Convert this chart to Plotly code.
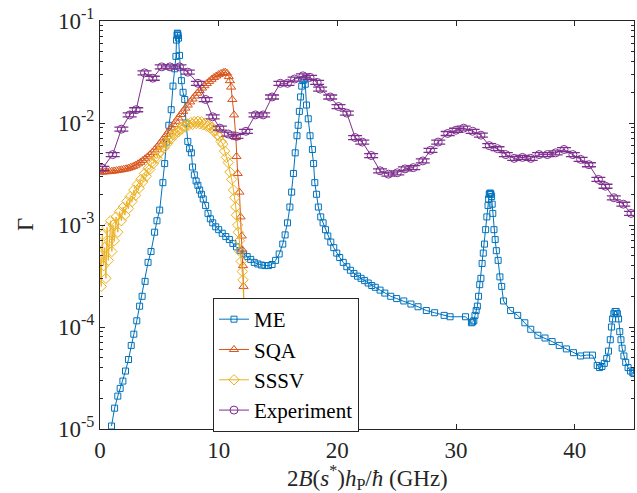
import plotly.graph_objects as go

# ---------------- data ----------------
me_x = [0.97, 1.23, 1.5, 1.7, 1.93, 2.15, 2.4, 2.63, 2.85, 3.1, 3.34, 3.55, 3.8, 4.05, 4.3, 4.6, 4.8,
        5.03, 5.3, 5.45, 5.6, 5.8, 6.0, 6.15, 6.3, 6.4, 6.45, 6.5, 6.52, 6.55, 6.58, 6.62, 6.7, 6.86,
        7.0, 7.14, 7.25, 7.4, 7.55, 7.7, 7.8, 7.95, 8.1, 8.25, 8.4, 8.55, 8.7, 8.9, 9.1, 9.3, 9.5, 9.75,
        10.0, 10.3, 10.6, 10.9, 11.2, 11.5, 11.8, 12.1, 12.4, 12.7, 13.0, 13.3, 13.6, 13.9, 14.2, 14.5,
        14.8, 15.1, 15.4, 15.6, 15.8, 16.0, 16.15, 16.3, 16.45, 16.6, 16.7, 16.8, 16.9, 17.0, 17.1, 17.2,
        17.3, 17.4, 17.55, 17.7, 17.9, 18.0, 18.1, 18.25, 18.4, 18.6, 18.8, 19.0, 19.2, 19.45, 19.7,
        19.95, 20.2, 20.5, 20.8, 21.1, 21.4, 21.7, 22.0, 22.3, 22.6, 22.9, 23.2, 23.6, 24.0, 24.5, 25.0,
        25.6, 26.2, 26.8, 27.5, 28.2, 29.0, 29.5, 30.8, 31.3, 31.4, 31.5, 31.6, 31.7, 31.8, 31.9, 32.0,
        32.1, 32.2, 32.3, 32.4, 32.5, 32.6, 32.7, 32.75, 32.8, 32.85, 32.9, 32.95, 33.0, 33.05, 33.1,
        33.2, 33.3, 33.4, 33.55, 33.7, 33.85, 34.0, 34.6, 35.2, 35.8, 36.3, 36.9, 37.5, 38.1, 38.7, 39.3,
        39.9, 40.5, 41.0, 41.5, 41.9, 42.1, 42.3, 42.5, 42.7, 42.85, 43.0, 43.1, 43.2, 43.3, 43.4, 43.5,
        43.6, 43.7, 43.8, 43.9, 44.0, 44.15, 44.3, 44.5, 44.7, 44.9, 45.0]
me_y = [1.07e-5, 1.6e-5, 2.1e-5, 2.5e-5, 2.95e-5, 3.7e-5, 4.8e-5, 6.6e-5, 8.5e-5, 1.15e-4, 1.6e-4, 2.0e-4,
        2.8e-4, 4.3e-4, 5.5e-4, 8.5e-4, 1.1e-3, 1.4e-3, 2.6e-3, 4.0e-3, 6.5e-3, 9.5e-3, 1.35e-2, 2.3e-2,
        3.4e-2, 4.5e-2, 6.5e-2, 7.3e-2, 7.6e-2, 7.5e-2, 7.2e-2, 6.8e-2, 4.6e-2, 2.6e-2, 2.0e-2, 1.7e-2,
        1.0e-2, 6.6e-3, 5.6e-3, 5.1e-3, 3.7e-3, 3.1e-3, 2.7e-3, 2.45e-3, 2.2e-3, 2.0e-3, 1.8e-3, 1.55e-3,
        1.3e-3, 1.15e-3, 1.05e-3, 9.6e-4, 9.0e-4, 8.3e-4, 7.7e-4, 7.2e-4, 6.6e-4, 6.1e-4, 5.6e-4, 5.2e-4,
        4.9e-4, 4.6e-4, 4.3e-4, 4.15e-4, 4.05e-4, 4.0e-4, 4.0e-4, 4.1e-4, 4.5e-4, 5.2e-4, 6.5e-4, 8.0e-4,
        1.05e-3, 1.5e-3, 2.1e-3, 3.2e-3, 5.1e-3, 7.5e-3, 9.5e-3, 1.3e-2, 1.8e-2, 2.3e-2, 2.6e-2, 2.65e-2,
        2.4e-2, 1.5e-2, 1.1e-2, 7.5e-3, 5.5e-3, 4.0e-3, 2.6e-3, 2.0e-3, 1.5e-3, 1.2e-3, 1.05e-3, 9.0e-4,
        7.8e-4, 6.8e-4, 6.0e-4, 5.3e-4, 4.8e-4, 4.3e-4, 3.9e-4, 3.6e-4, 3.35e-4, 3.15e-4, 3.0e-4, 2.85e-4,
        2.7e-4, 2.55e-4, 2.45e-4, 2.3e-4, 2.15e-4, 2.0e-4, 1.9e-4, 1.8e-4, 1.68e-4, 1.58e-4, 1.45e-4,
        1.38e-4, 1.3e-4, 1.26e-4, 1.26e-4, 1.1e-4, 1.12e-4, 1.15e-4, 1.3e-4, 1.45e-4, 1.6e-4, 2.0e-4,
        2.6e-4, 3.0e-4, 4.2e-4, 5.3e-4, 6.5e-4, 9.0e-4, 1.2e-3, 1.55e-3, 1.8e-3, 2.0e-3, 2.05e-3, 2.05e-3,
        2.0e-3, 1.9e-3, 1.6e-3, 1.3e-3, 9.0e-4, 7.2e-4, 5.6e-4, 4.5e-4, 3.1e-4, 2.5e-4, 1.8e-4, 1.45e-4,
        1.3e-4, 1.1e-4, 9.5e-5, 8.3e-5, 7.8e-5, 7.2e-5, 6.6e-5, 6.1e-5, 5.6e-5, 5.2e-5, 5.3e-5, 5.3e-5,
        4.2e-5, 4.0e-5, 4.1e-5, 4.4e-5, 4.9e-5, 5.8e-5, 7.5e-5, 1.0e-4, 1.2e-4, 1.35e-4, 1.42e-4, 1.42e-4,
        1.35e-4, 1.2e-4, 9.0e-5, 7.5e-5, 6.2e-5, 5.2e-5, 4.5e-5, 4.0e-5, 3.7e-5, 3.55e-5, 3.5e-5]

sqa_x = [0.0, 0.2, 0.4, 0.6, 0.8, 1.0, 1.2, 1.4, 1.6, 1.8, 2.0, 2.2, 2.4, 2.6, 2.8, 3.0, 3.2, 3.4, 3.6,
         3.8, 4.0, 4.2, 4.4, 4.6, 4.8, 5.0, 5.2, 5.4, 5.6, 5.8, 6.0, 6.2, 6.4, 6.6, 6.8, 7.0, 7.2, 7.4,
         7.6, 7.8, 8.0, 8.2, 8.4, 8.6, 8.8, 9.0, 9.2, 9.4, 9.6, 9.8, 10.0, 10.2, 10.4, 10.55, 10.7,
         10.85, 10.95, 11.05, 11.15, 11.3, 11.45, 11.5, 11.6, 11.75, 11.85, 11.95, 12.0, 12.05, 12.1, 12.25]
sqa_y = [3.30e-3, 3.31e-3, 3.32e-3, 3.33e-3, 3.35e-3, 3.37e-3, 3.39e-3, 3.42e-3, 3.45e-3, 3.48e-3,
         3.52e-3, 3.56e-3, 3.61e-3, 3.68e-3, 3.76e-3, 3.86e-3, 3.98e-3, 4.12e-3, 4.28e-3, 4.46e-3,
         4.66e-3, 4.88e-3, 5.15e-3, 5.45e-3, 5.80e-3, 6.20e-3, 6.65e-3, 7.15e-3, 7.70e-3, 8.30e-3,
         8.95e-3, 9.65e-3, 1.04e-2, 1.12e-2, 1.21e-2, 1.30e-2, 1.40e-2, 1.50e-2, 1.61e-2, 1.72e-2,
         1.84e-2, 1.96e-2, 2.08e-2, 2.20e-2, 2.32e-2, 2.44e-2, 2.56e-2, 2.68e-2, 2.79e-2, 2.89e-2,
         2.98e-2, 3.06e-2, 3.12e-2, 3.15e-2, 3.08e-2, 2.85e-2, 2.6e-2, 2.25e-2, 1.7e-2, 1.2e-2,
         7.2e-3, 4.7e-3, 3.2e-3, 2.1e-3, 1.2e-3, 7.8e-4, 5.7e-4, 4.0e-4, 2.5e-4, 5e-6]

sssv_x = [0.0, 0.1, 0.2, 0.3, 0.4, 0.5, 0.6, 0.7, 0.8, 0.9, 1.0, 1.1, 1.2, 1.35, 1.5, 1.65, 1.8, 1.95,
          2.1, 2.25, 2.4, 2.55, 2.7, 2.85, 3.0, 3.15, 3.3, 3.45, 3.6, 3.75, 3.9, 4.05, 4.2, 4.35, 4.5,
          4.65, 4.8, 4.95, 5.1, 5.25, 5.4, 5.55, 5.7, 5.85, 6.0, 6.15, 6.3, 6.45, 6.6, 6.75, 6.9, 7.05,
          7.2, 7.35, 7.5, 7.65, 7.8, 7.95, 8.1, 8.25, 8.4, 8.55, 8.7, 8.85, 9.0, 9.15, 9.3, 9.45, 9.6,
          9.75, 9.9, 10.05, 10.2, 10.35, 10.5, 10.65, 10.8, 10.95, 11.1, 11.25, 11.35, 11.45, 11.5, 11.6,
          11.65, 11.75, 11.8, 11.9, 12.0, 12.05, 12.4]
sssv_y = [5.0e-4, 2.5e-4, 8.0e-4, 4.0e-4, 6.0e-4, 3.0e-4, 9.5e-4, 4.5e-4, 7.0e-4, 1.1e-3, 5.5e-4, 1.0e-3,
          7.0e-4, 1.2e-3, 8.5e-4, 1.35e-3, 1.1e-3, 1.5e-3, 1.25e-3, 1.7e-3, 1.45e-3, 1.9e-3, 1.7e-3,
          2.2e-3, 1.95e-3, 2.5e-3, 2.3e-3, 2.8e-3, 2.65e-3, 3.2e-3, 3.0e-3, 3.6e-3, 3.5e-3, 4.1e-3,
          4.0e-3, 4.6e-3, 4.5e-3, 5.1e-3, 5.2e-3, 5.8e-3, 5.7e-3, 6.4e-3, 6.3e-3, 7.1e-3, 7.0e-3, 7.7e-3,
          7.6e-3, 8.3e-3, 8.2e-3, 8.9e-3, 8.7e-3, 9.4e-3, 9.2e-3, 9.8e-3, 9.5e-3, 1.01e-2, 9.7e-3,
          1.03e-2, 9.9e-3, 1.04e-2, 9.8e-3, 1.03e-2, 9.6e-3, 1.0e-2, 9.3e-3, 9.6e-3, 8.9e-3, 9.1e-3,
          8.3e-3, 8.4e-3, 7.6e-3, 7.4e-3, 6.6e-3, 6.2e-3, 5.3e-3, 4.6e-3, 4.1e-3, 3.3e-3, 2.8e-3, 2.2e-3,
          1.85e-3, 1.5e-3, 1.25e-3, 1.0e-3, 8.5e-4, 7.0e-4, 5.5e-4, 4.4e-4, 3.5e-4, 2.9e-4, 1.0e-5]

exp_x = [0.2, 1.07, 1.8, 2.5, 3.05, 3.75, 4.45, 5.2, 5.9, 6.7, 7.4, 8.25, 8.9, 9.5, 10.1, 10.8, 11.5,
         12.3, 13.1, 13.75, 14.5, 15.2, 15.8, 16.4, 17.1, 17.7, 18.3, 18.55, 19.4, 20.1, 20.8, 21.5,
         22.1, 22.85, 23.6, 24.3, 25.05, 25.7, 26.4, 27.2, 27.85, 28.5, 29.3, 30.0, 30.65, 31.4, 32.1,
         32.8, 33.5, 34.2, 34.9, 35.6, 36.3, 37.0, 37.7, 38.4, 39.1, 39.85, 40.5, 41.2, 42.0, 42.6,
         43.3, 44.1, 44.75]
exp_y = [3.6e-3, 4.9e-3, 8.7e-3, 1.2e-2, 1.35e-2, 3.1e-2, 2.75e-2, 3.55e-2, 3.55e-2, 3.55e-2, 3.15e-2,
         2.45e-2, 1.7e-2, 1.15e-2, 8.9e-3, 7.8e-3, 7.4e-3, 8.3e-3, 1.2e-2, 1.2e-2, 1.8e-2, 2.45e-2,
         2.45e-2, 2.7e-2, 2.9e-2, 2.8e-2, 2.5e-2, 2.15e-2, 1.8e-2, 1.45e-2, 1.25e-2, 7.2e-3, 6.5e-3,
         4.8e-3, 3.4e-3, 3.15e-3, 3.25e-3, 3.55e-3, 3.65e-3, 4.25e-3, 5.4e-3, 6.5e-3, 7.9e-3, 8.5e-3,
         8.9e-3, 8.3e-3, 7.6e-3, 6.0e-3, 5.6e-3, 4.9e-3, 4.5e-3, 4.6e-3, 4.5e-3, 4.9e-3, 4.9e-3, 5.1e-3,
         5.5e-3, 4.9e-3, 4.4e-3, 3.9e-3, 2.8e-3, 2.4e-3, 1.85e-3, 1.6e-3, 1.3e-3]

x_ticks = [0, 10, 20, 30, 40]
y_ticks = [1e-5, 1e-4, 1e-3, 1e-2, 1e-1]
y_ticktext = ["10<sup>-5</sup>", "10<sup>-4</sup>", "10<sup>-3</sup>", "10<sup>-2</sup>", "10<sup>-1</sup>"]

# ---------------- figure ----------------
FONT = "Liberation Serif, Times New Roman, serif"
AX = "#262626"

fig = go.Figure()
fig.add_trace(go.Scatter(x=me_x, y=me_y, mode="lines+markers", name="ME",
                         line=dict(color="#0072BD", width=1),
                         marker=dict(symbol="square-open", size=6, color="#0072BD", line=dict(width=1))))
fig.add_trace(go.Scatter(x=sqa_x, y=sqa_y, mode="lines+markers", name="SQA",
                         line=dict(color="#D95319", width=1),
                         marker=dict(symbol="triangle-up-open", size=8, color="#D95319", line=dict(width=1))))
fig.add_trace(go.Scatter(x=sssv_x, y=sssv_y, mode="lines+markers", name="SSSV",
                         line=dict(color="#EDB120", width=1),
                         marker=dict(symbol="diamond-open", size=8, color="#EDB120", line=dict(width=1))))
fig.add_trace(go.Scatter(x=exp_x, y=exp_y, mode="lines+markers", name="Experiment",
                         line=dict(color="#7E2F8E", width=1),
                         marker=dict(symbol="circle-open", size=8, color="#7E2F8E", line=dict(width=1)),
                         error_y=dict(type="percent", value=4.5, color="#7E2F8E", thickness=1.3, width=7)))

minor_vals = [k * 10.0 ** e for e in range(-5, -1) for k in range(2, 10)]

fig.update_layout(
    width=637, height=493,
    margin=dict(l=100, r=3, t=21, b=64),
    paper_bgcolor="white", plot_bgcolor="white",
    font=dict(family=FONT, size=22, color=AX),
    showlegend=True,
    legend=dict(x=0.2116, y=0.321, xanchor="left", yanchor="top",
                bgcolor="white", bordercolor=AX, borderwidth=1, tracegroupgap=0,
                font=dict(family=FONT, size=21, color="black")),
    xaxis=dict(range=[0, 45], tickvals=x_ticks, ticks="inside", ticklen=5, tickcolor=AX,
               showline=True, linecolor=AX, linewidth=1, mirror="allticks",
               showgrid=False, zeroline=False, automargin=False,
               tickfont=dict(family=FONT, size=23, color=AX)),
    yaxis=dict(type="log", range=[-5, -1], tickvals=y_ticks, ticktext=y_ticktext,
               ticks="inside", ticklen=5, tickcolor=AX,
               minor=dict(ticks="inside", ticklen=3, tickcolor=AX, tickvals=minor_vals),
               showline=True, linecolor=AX, linewidth=1, mirror="allticks",
               showgrid=False, zeroline=False, automargin=False,
               tickfont=dict(family=FONT, size=23, color=AX)),
    annotations=[
        dict(text="2<i>B</i>(<i>s</i><sup>*</sup>)<i>h</i><sub>P</sub>/<i>ħ</i> (GHz)",
             xref="paper", yref="paper", x=0.5, y=-0.119, xanchor="center", yanchor="middle",
             showarrow=False, font=dict(family=FONT, size=23, color=AX)),
        dict(text="Γ", xref="paper", yref="paper", x=-0.1404, y=0.5, xanchor="center",
             yanchor="middle", textangle=-90, showarrow=False,
             font=dict(family=FONT, size=23, color=AX)),
    ],
)

fig.write_html("out.html", config={"displayModeBar": False},
               post_script="document.body.style.margin='0';document.body.style.overflow='hidden';")
